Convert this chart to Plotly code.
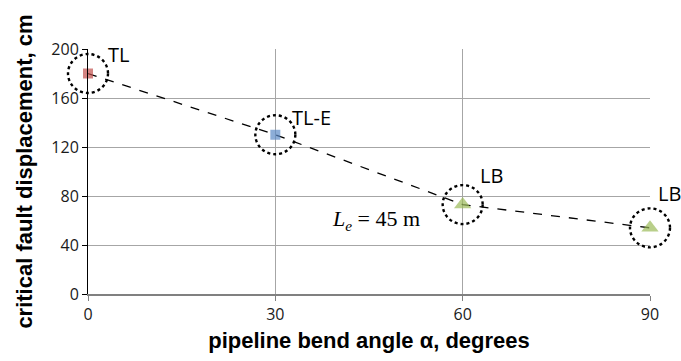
import plotly.graph_objects as go

# Bend angle (degrees) and critical fault displacement (cm)
angles = [0, 30, 60, 90]
displacement = [180, 130, 73, 54]
point_labels = ["TL", "TL-E", "LB", "LB"]
marker_symbols = ["square", "square", "triangle-up", "triangle-up"]
marker_colors = ["#c0504d", "#5b8ac6", "#9bbb59", "#9bbb59"]
marker_sizes = [10, 10, 15, 15]

x_range = [0, 90]
y_range = [0, 200]
x_ticks = [0, 30, 60, 90]
y_ticks = [0, 40, 80, 120, 160, 200]

fig = go.Figure()

# dashed connector line
fig.add_trace(go.Scatter(
    x=angles, y=displacement, mode="lines",
    line=dict(color="black", width=1.3, dash="dash"),
    hoverinfo="skip", showlegend=False,
))

# coloured markers
fig.add_trace(go.Scatter(
    x=angles, y=displacement, mode="markers",
    marker=dict(symbol=marker_symbols, color=marker_colors, size=marker_sizes,
                line=dict(width=0)),
    cliponaxis=False, showlegend=False,
))


def to_paper(v, rng):
    return (v - rng[0]) / (rng[1] - rng[0])


# dotted circles around each point
for a, d in zip(angles, displacement):
    px = to_paper(a, x_range)
    py = to_paper(d, y_range)
    fig.add_shape(
        type="circle", xref="paper", yref="paper",
        xsizemode="pixel", ysizemode="pixel",
        xanchor=px, yanchor=py,
        x0=-20, x1=20, y0=-19.5, y1=19.5,
        line=dict(color="black", width=2.4, dash="dot"),
    )

# point labels (pixel offsets from each point)
label_offsets = [(18, 19), (15, 17.5), (15, 29.5), (6, 34.5)]
for a, d, t, (ox, oy) in zip(angles, displacement, point_labels, label_offsets):
    fig.add_annotation(
        x=a, y=d, text=t, showarrow=False, xanchor="left", yanchor="middle",
        xshift=ox, yshift=oy,
        font=dict(family="Open Sans, sans-serif", size=20, color="black"),
    )

fig.add_annotation(
    x=60, y=73, text="<i>L<sub>e</sub></i> = 45 m", showarrow=False,
    xanchor="right", yanchor="middle", xshift=-41, yshift=-15,
    font=dict(family="Liberation Serif, serif", size=22, color="black"),
)

fig.update_layout(
    width=681, height=361,
    margin=dict(l=88, r=31, t=49, b=67),
    plot_bgcolor="white", paper_bgcolor="white",
    xaxis=dict(
        range=x_range, tickvals=x_ticks, showgrid=True, gridcolor="#a6a6a6",
        gridwidth=1, zeroline=False, showline=True, linecolor="#808080",
        linewidth=2, ticks="outside", ticklen=5, tickcolor="#808080",
        tickfont=dict(family="Open Sans, sans-serif", size=16, color="#1a1a1a"),
        title=dict(text="<b>pipeline bend angle α, degrees</b>", standoff=8,
                   font=dict(family="Liberation Sans, Arial", size=22, color="black")),
    ),
    yaxis=dict(
        range=y_range, tickvals=y_ticks, showgrid=True, gridcolor="#a6a6a6",
        gridwidth=1, zeroline=False, showline=True, linecolor="black",
        linewidth=1, ticks="outside", ticklen=5, tickcolor="black",
        tickfont=dict(family="Open Sans, sans-serif", size=16, color="#1a1a1a"),
        title=dict(text="<b>critical fault displacement, cm</b>", standoff=12,
                   font=dict(family="Liberation Sans, Arial", size=22, color="black")),
    ),
)

fig.write_html("out.html")
